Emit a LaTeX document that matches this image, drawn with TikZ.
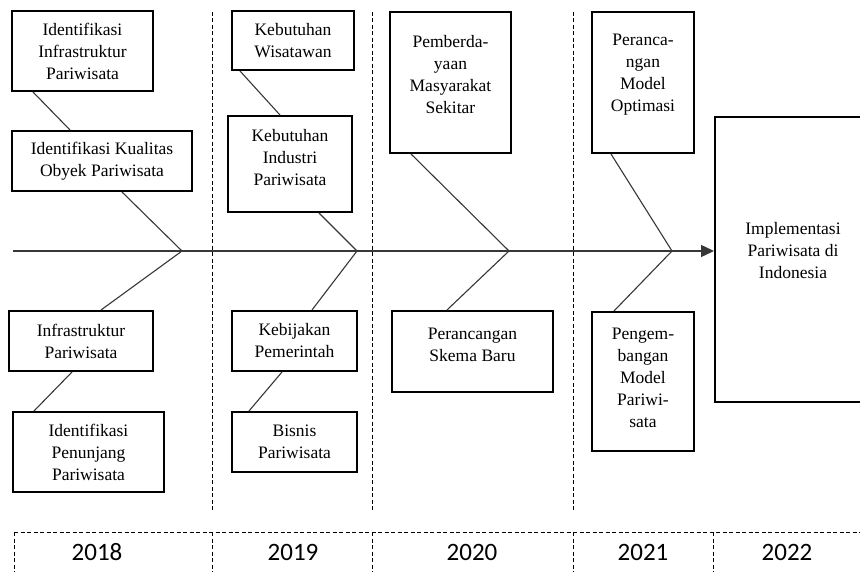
\documentclass[tikz,border=0pt]{standalone}
\usepackage{fontspec}
\setmainfont{Liberation Serif}
\newfontfamily\boxfont{Liberation Serif}
\newfontfamily\yearfont{Carlito}
\usetikzlibrary{arrows.meta}
\definecolor{lineg}{RGB}{55,55,55}
\begin{document}
\begin{tikzpicture}[x=1pt,y=-1pt,
  box/.style={draw=black,line width=2pt,rectangle,inner sep=0pt},
  txt/.style={align=center,inner sep=0pt,font=\boxfont\fontsize{17.5}{22}\selectfont},
  conn/.style={draw=lineg,line width=1.1pt},
  spine/.style={draw=lineg,line width=1.4pt},
  sep/.style={draw=black,line width=0.8pt,dash pattern=on 4pt off 2.5pt},
  yr/.style={inner sep=0pt,font=\yearfont\fontsize{25}{28}\selectfont}]
\useasboundingbox (0,0) rectangle (860,572);
\clip (0,0) rectangle (860,572);
\fill[white] (0,0) rectangle (860,572);
% boxes
\node[box,minimum width=141pt,minimum height=80pt] (b1) at (82.5,51) {};
\node[box,minimum width=180pt,minimum height=60pt] (b2) at (102,161) {};
\node[box,minimum width=144pt,minimum height=60pt] (b3) at (81,341) {};
\node[box,minimum width=151pt,minimum height=80pt] (b4) at (88.5,452) {};
\node[box,minimum width=122pt,minimum height=59pt] (b5) at (293,40.5) {};
\node[box,minimum width=124pt,minimum height=96pt] (b6) at (290,164) {};
\node[box,minimum width=125pt,minimum height=60pt] (b7) at (294.5,341) {};
\node[box,minimum width=125pt,minimum height=60pt] (b8) at (294.5,442) {};
\node[box,minimum width=121pt,minimum height=141pt] (b9) at (450.5,82.5) {};
\node[box,minimum width=161pt,minimum height=81pt] (b10) at (472.5,351.5) {};
\node[box,minimum width=102pt,minimum height=141pt] (b11) at (643,82.5) {};
\node[box,minimum width=102pt,minimum height=139pt] (b12) at (643,381.5) {};
\node[box,minimum width=156pt,minimum height=285pt] (b13) at (793,259.5) {};
% texts
\node[txt] (t1) at (b1.center) {Identifikasi\\Infrastruktur\\Pariwisata};
\node[txt] (t2) at (b2.center) {Identifikasi Kualitas\\Obyek Pariwisata};
\node[txt] (t3) at (b3.center) {Infrastruktur\\Pariwisata};
\node[txt] (t4) at (b4.center) {Identifikasi\\Penunjang\\Pariwisata};
\node[txt] (t5) at (b5.center) {Kebutuhan\\Wisatawan};
\node[txt] (t6) at ([yshift=6pt]b6.center) {Kebutuhan\\Industri\\Pariwisata};
\node[txt] (t7) at (b7.center) {Kebijakan\\Pemerintah};
\node[txt] (t8) at (b8.center) {Bisnis\\Pariwisata};
\node[txt] (t9) at ([yshift=8pt]b9.center) {Pemberda-\\yaan\\Masyarakat\\Sekitar};
\node[txt] (t10) at ([yshift=7pt]b10.center) {Perancangan\\Skema Baru};
\node[txt] (t11) at ([yshift=8pt]b11.center) {Peranca-\\ngan\\Model\\Optimasi};
\node[txt] (t12) at ([yshift=4pt]b12.center) {Pengem-\\bangan\\Model\\Pariwi-\\sata};
\node[txt] (t13) at ([yshift=8.5pt]b13.center) {Implementasi\\Pariwisata di\\Indonesia};
% spine
\coordinate (s0) at (13,251);
\coordinate (f1) at (182,251);
\coordinate (f2) at (357,251);
\coordinate (f3) at (509,251);
\coordinate (f4) at (672,251);
\draw[spine,-{Triangle[length=13pt,width=12pt]}] (s0) -- (b13.west |- s0);
% connectors
\draw[conn] ([xshift=22pt]b1.south west) -- ([xshift=59pt]b2.north west);
\draw[conn] ([xshift=111pt]b2.south west) -- (f1);
\draw[conn] ([xshift=93pt]b3.north west) -- (f1);
\draw[conn] ([xshift=64pt]b3.south west) -- ([xshift=22pt]b4.north west);
\draw[conn] ([xshift=9pt]b5.south west) -- ([xshift=53pt]b6.north west);
\draw[conn] ([xshift=92pt]b6.south west) -- (f2);
\draw[conn] ([xshift=81pt]b7.north west) -- (f2);
\draw[conn] ([xshift=51pt]b7.south west) -- ([xshift=18pt]b8.north west);
\draw[conn] ([xshift=22pt]b9.south west) -- (f3);
\draw[conn] ([xshift=56pt]b10.north west) -- (f3);
\draw[conn] ([xshift=20pt]b11.south west) -- (f4);
\draw[conn] ([xshift=23pt]b12.north west) -- (f4);
% year separators
\coordinate (v1a) at (212,12); \coordinate (v1b) at (212,512);
\coordinate (v2a) at (372,12); \coordinate (v2b) at (372,512);
\coordinate (v3a) at (573,12); \coordinate (v3b) at (573,512);
\draw[sep] (v1a) -- (v1b);
\draw[sep] (v2a) -- (v2b);
\draw[sep] (v3a) -- (v3b);
% timeline
\coordinate (h0) at (14,532); \coordinate (h1) at (860,532);
\draw[sep] (h0) -- (h1);
\foreach \x [count=\i] in {14,212,372,573,713}{
  \coordinate (ta\i) at (\x,532); \coordinate (tb\i) at (\x,572);
  \draw[sep] (ta\i) -- (tb\i);
}
\node[yr] (y18) at (97,552) {2018};
\node[yr] (y19) at (293,552) {2019};
\node[yr] (y20) at (472,552) {2020};
\node[yr] (y21) at (643,552) {2021};
\node[yr] (y22) at (787,552) {2022};
\end{tikzpicture}
\end{document}
